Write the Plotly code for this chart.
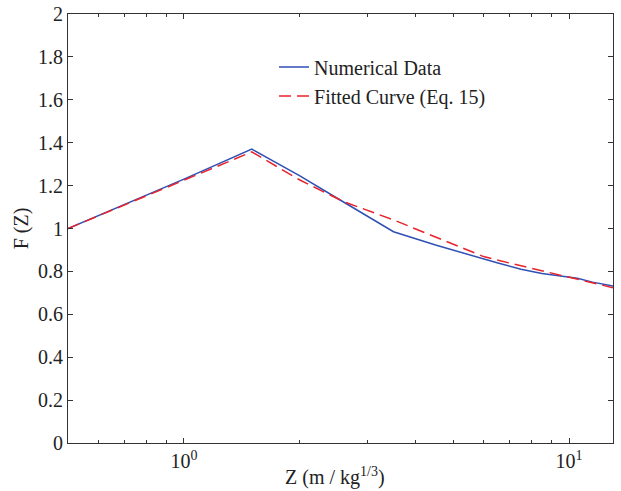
import plotly.graph_objects as go
import math

# Numerical data
z_num = [0.5, 1.0, 1.5, 2.0, 2.5, 3.5, 4.5, 5.5, 6.5, 7.5, 8.5, 9.5, 10.5, 11.5, 13.0]
f_num = [1.0, 1.23, 1.37, 1.245, 1.141, 0.985, 0.923, 0.876, 0.840, 0.810, 0.790, 0.779, 0.768, 0.750, 0.732]

# Fitted curve (Eq. 15)
z_fit = [0.5, 1.0, 1.5, 2.0, 2.6, 3.5, 5.0, 6.0, 7.0, 8.0, 9.0, 10.0, 11.0, 12.0, 13.0]
f_fit = [1.0, 1.226, 1.357, 1.226, 1.125, 1.040, 0.927, 0.869, 0.839, 0.814, 0.792, 0.772, 0.754, 0.738, 0.724]

y_ticks = [0, 0.2, 0.4, 0.6, 0.8, 1, 1.2, 1.4, 1.6, 1.8, 2]
y_tick_text = ["0", "0.2", "0.4", "0.6", "0.8", "1", "1.2", "1.4", "1.6", "1.8", "2"]
x_ticks = [1, 10]
x_tick_text = ["10<sup>0</sup>", "10<sup>1</sup>"]
x_minor = [0.6, 0.7, 0.8, 0.9, 2, 3, 4, 5, 6, 7, 8, 9]

FONT = "Liberation Serif, Times New Roman, serif"
TXT = "#222222"

fig = go.Figure()
fig.add_trace(go.Scatter(x=z_num, y=f_num, mode="lines", name="Numerical Data",
                         line=dict(color="#3050b4", width=1.5)))
fig.add_trace(go.Scatter(x=z_fit, y=f_fit, mode="lines", name="Fitted Curve (Eq. 15)",
                         line=dict(color="#e8232b", width=1.5, dash="12px,6px")))

axis_common = dict(showline=True, linecolor="#333333", linewidth=1, mirror="ticks",
                   ticks="inside", tickcolor="#333333", ticklen=5, showgrid=False,
                   zeroline=False, automargin=False,
                   tickfont=dict(family=FONT, size=20, color=TXT))

fig.update_xaxes(type="log", range=[math.log10(0.5), math.log10(13)],
                 tickmode="array", tickvals=x_ticks, ticktext=x_tick_text,
                 minor=dict(tickvals=x_minor, ticks="inside", ticklen=3, tickcolor="#333333"),
                 title=dict(text=""),
                 **axis_common)
fig.update_yaxes(range=[0, 2], tickmode="array", tickvals=y_ticks, ticktext=y_tick_text,
                 title=dict(text="F (Z)", font=dict(family=FONT, size=20, color=TXT), standoff=4),
                 **axis_common)

fig.add_annotation(text="Z (m / kg<sup>1/3</sup>)", xref="paper", yref="paper",
                   x=(335 - 68) / 545.0, y=(443 - 476) / 429.0, xanchor="center", yanchor="middle",
                   showarrow=False, font=dict(family=FONT, size=20, color=TXT))

fig.update_layout(width=621, height=491, margin=dict(l=68, r=8, t=14, b=48),
                  paper_bgcolor="white", plot_bgcolor="white",
                  legend=dict(x=0.378, y=0.922, xanchor="left", yanchor="top",
                              bgcolor="rgba(0,0,0,0)", borderwidth=0,
                              font=dict(family=FONT, size=20, color=TXT),
                              tracegroupgap=5))

fig.write_html("out.html")
